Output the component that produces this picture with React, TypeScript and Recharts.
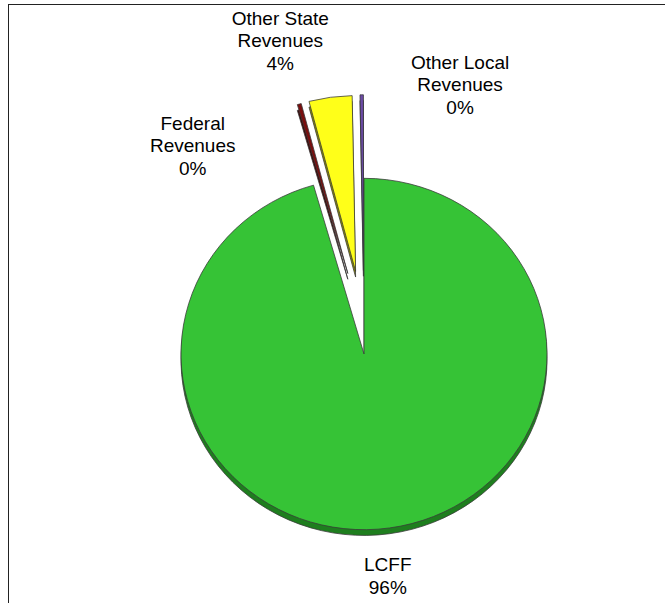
import { PieChart, Pie, Cell, Sector } from 'recharts'

// revenue mix, share of total (%)
const categories = ['LCFF', 'Federal Revenues', 'Other State Revenues', 'Other Local Revenues']
const values = [95.55, 0.35, 3.8, 0.3]
const explodedNames = ['Federal Revenues', 'Other State Revenues', 'Other Local Revenues']

const colors = ['#36C336', '#7A0F0F', '#FFFF19', '#6C4BA6']
const sideColors = ['#1E7E1E', '#3E0505', '#8C8C00', '#38265E']

const data = categories.map((name, i) => ({ name, value: values[i] }))

// layout
const W = 665
const H = 603
const CX = 364
const CY = 354
const R = 183
const SQUASH = 0.96
const EXPLODE = 87
const EXPLODE_X = 0.7 // perspective: exploded pieces spread less sideways
const DEPTH = 6
const LABEL_GAP = 45
const FONT = 19
const LH = 22.5
const RAD = Math.PI / 180

// excel-style manual label placement tweaks
const labelNudge: Record<string, [number, number]> = {
  'LCFF': [-8, 5],
  'Federal Revenues': [-89, 78],
  'Other State Revenues': [-41, -19],
  'Other Local Revenues': [99, 28],
}

const SliceShape = (props: any) => {
  const { cx, cy, midAngle, innerRadius, outerRadius, startAngle, endAngle, fill } = props
  const name = props.name ?? props.payload?.name
  const i = categories.indexOf(name)
  const off = explodedNames.includes(name) ? EXPLODE : 0
  const a = -midAngle * RAD
  const dx = off * Math.cos(a) * EXPLODE_X
  const dy = off * Math.sin(a)
  const common = { cx, innerRadius, outerRadius, startAngle, endAngle, stroke: '#3a3a3a', strokeWidth: 0.8 }
  return (
    <g transform={`translate(${dx} ${dy * SQUASH + cy * (1 - SQUASH)}) scale(1 ${SQUASH})`}>
      <Sector {...common} cy={cy + DEPTH} fill={sideColors[i]} />
      <Sector {...common} cy={cy} fill={fill} />
    </g>
  )
}

const renderLabel = (props: any) => {
  const { cx, cy, midAngle, outerRadius, percent } = props
  const name = props.name ?? props.payload?.name
  const off = explodedNames.includes(name) ? 82 : 0
  const r = off + outerRadius + LABEL_GAP
  const a = -midAngle * RAD
  const [nx, ny] = labelNudge[name] ?? [0, 0]
  const x = cx + r * Math.cos(a) + nx
  const y = cy + r * Math.sin(a) * SQUASH + ny
  const sp = name.lastIndexOf(' ')
  const lines = sp > 0 ? [name.slice(0, sp), name.slice(sp + 1)] : [name]
  lines.push(`${Math.round(percent * 100)}%`)
  const y0 = y - ((lines.length - 1) * LH) / 2 + 7
  return (
    <text x={x} y={y0} textAnchor="middle" fill="#000" fontSize={FONT} fontFamily="'Liberation Sans', Arial, sans-serif">
      {lines.map((t, k) => (
        <tspan key={k} x={x} dy={k === 0 ? 0 : LH}>{t}</tspan>
      ))}
    </text>
  )
}

export default function App() {
  return (
    <div style={{ position: 'absolute', left: 0, top: 0, width: W, height: H, overflow: 'hidden', background: '#fff' }}>
      {/* chart frame, only top and left edges show */}
      <div style={{ position: 'absolute', left: 8, top: 4, width: W + 20, height: H + 20, borderTop: '1.5px solid #222', borderLeft: '1.5px solid #222' }} />
      <div style={{ position: 'absolute', left: 0, top: 0 }}>
        <PieChart width={W} height={H} margin={{ top: 0, right: 0, bottom: 0, left: 0 }}>
          <Pie
            data={data}
            dataKey="value"
            nameKey="name"
            cx={CX}
            cy={CY}
            outerRadius={R}
            startAngle={90}
            endAngle={-270}
            stroke="none"
            label={renderLabel}
            labelLine={false}
            shape={SliceShape}
            isAnimationActive={false}
          >
            {data.map((d, i) => (
              <Cell key={d.name} fill={colors[i]} />
            ))}
          </Pie>
        </PieChart>
      </div>
    </div>
  )
}
